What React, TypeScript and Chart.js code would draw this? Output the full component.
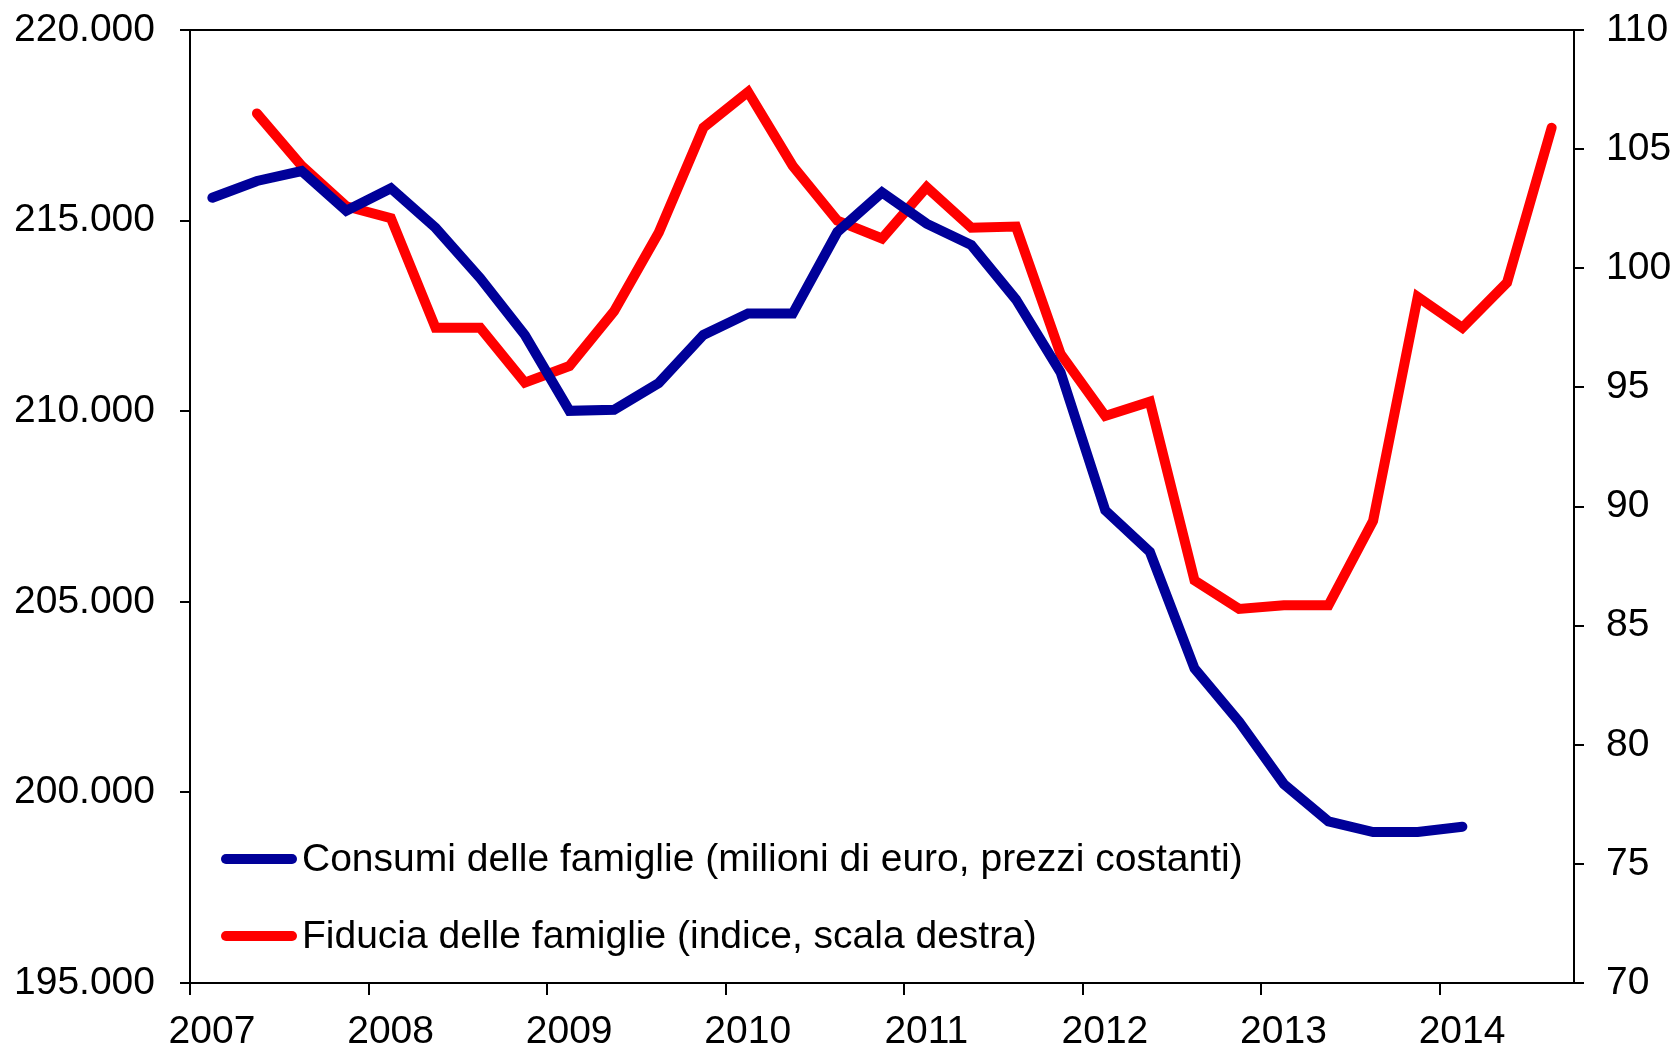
import React, { useEffect, useRef } from "react";
import { Chart, registerables } from "chart.js";

Chart.register(...registerables);

const quarters = [
  "2007Q1","2007Q2","2007Q3","2007Q4","2008Q1","2008Q2","2008Q3","2008Q4",
  "2009Q1","2009Q2","2009Q3","2009Q4","2010Q1","2010Q2","2010Q3","2010Q4",
  "2011Q1","2011Q2","2011Q3","2011Q4","2012Q1","2012Q2","2012Q3","2012Q4",
  "2013Q1","2013Q2","2013Q3","2013Q4","2014Q1","2014Q2","2014Q3",
];

const consumi: (number | null)[] = [
  215600, 216040, 216300, 215260, 215850, 214810, 213490, 212000,
  210010, 210040, 210740, 212000, 212560, 212560, 214700, 215740,
  214920, 214360, 212930, 211020, 207400, 206310, 203250, 201850,
  200220, 199240, 198960, 198960, 199100, null, null,
];

const fiducia: (number | null)[] = [
  null, 106.5, 104.3, 102.6, 102.1, 97.5, 97.5, 95.2,
  95.9, 98.2, 101.5, 105.9, 107.4, 104.3, 102.0, 101.25,
  103.4, 101.7, 101.75, 96.4, 93.8, 94.4, 86.9, 85.7,
  85.85, 85.85, 89.4, 98.8, 97.5, 99.4, 105.9,
];

const yearTicks = [2007, 2008, 2009, 2010, 2011, 2012, 2013, 2014];
const leftTicks = [195000, 200000, 205000, 210000, 215000, 220000];
const rightTicks = [70, 75, 80, 85, 90, 95, 100, 105, 110];

const seriesNames = [
  "Consumi delle famiglie (milioni di euro, prezzi costanti)",
  "Fiducia delle famiglie (indice, scala destra)",
];
const BLUE = "#000099";
const RED = "#ff0000";
const FONT = "'Liberation Sans', Arial, sans-serif";
const FONT_SIZE = 39;

export default function App() {
  const ref = useRef<HTMLCanvasElement | null>(null);

  useEffect(() => {
    if (!ref.current) return;
    const toPts = (arr: (number | null)[]) =>
      arr.map((v, i) => ({ x: i + 0.5, y: v }));

    const framePlugin = {
      id: "frame",
      afterDatasetsDraw(chart: any) {
        const { ctx, chartArea } = chart;
        ctx.save();
        ctx.strokeStyle = "#000";
        ctx.lineWidth = 2;
        ctx.beginPath();
        ctx.moveTo(chartArea.left - 10, chartArea.top);
        ctx.lineTo(chartArea.right + 10, chartArea.top);
        ctx.stroke();
        // legend
        const colors = [BLUE, RED];
        const ys = [chartArea.bottom - 124, chartArea.bottom - 47];
        ctx.font = `${FONT_SIZE}px ${FONT}`;
        ctx.textBaseline = "middle";
        ctx.textAlign = "left";
        ys.forEach((y, k) => {
          ctx.strokeStyle = colors[k];
          ctx.lineWidth = 10;
          ctx.lineCap = "round";
          ctx.beginPath();
          ctx.moveTo(chartArea.left + 36, y);
          ctx.lineTo(chartArea.left + 102, y);
          ctx.stroke();
          ctx.fillStyle = "#000";
          ctx.fillText(seriesNames[k], chartArea.left + 112, y + 1);
        });
        ctx.restore();
      },
    };

    const tickFont = { family: FONT, size: FONT_SIZE };

    const chart = new Chart(ref.current, {
      type: "line",
      data: {
        datasets: [
          {
            label: seriesNames[0],
            data: toPts(consumi) as any,
            borderColor: BLUE,
            backgroundColor: BLUE,
            borderWidth: 10,
            pointRadius: 0,
            borderCapStyle: "round",
            borderJoinStyle: "miter",
            yAxisID: "y",
            spanGaps: false,
          },
          {
            label: seriesNames[1],
            data: toPts(fiducia) as any,
            borderColor: RED,
            backgroundColor: RED,
            borderWidth: 10,
            pointRadius: 0,
            borderCapStyle: "round",
            borderJoinStyle: "miter",
            yAxisID: "y1",
            spanGaps: false,
          },
        ],
      },
      options: {
        animation: false,
        responsive: true,
        maintainAspectRatio: false,
        layout: { padding: { top: 30, left: 0, right: 0, bottom: 0 } },
        plugins: {
          legend: { display: false },
          tooltip: { enabled: false },
        },
        scales: {
          x: {
            type: "linear",
            min: 0,
            max: quarters.length,
            afterBuildTicks: (scale: any) => {
              scale.ticks = yearTicks.map((yr) => ({ value: (yr - 2007) * 4 }));
            },
            afterFit: (scale: any) => {
              scale.height = 66;
              scale.paddingLeft = 0;
              scale.paddingRight = 0;
            },
            ticks: {
              color: "#000",
              font: tickFont,
              padding: 14,
              labelOffset: 22,
              maxRotation: 0,
              autoSkip: false,
              callback: (v: any) => String(2007 + Math.round(Number(v) / 4)),
            },
            grid: {
              drawOnChartArea: false,
              drawTicks: true,
              tickLength: 12,
              color: "#000",
              lineWidth: 2,
            },
            border: { display: true, color: "#000", width: 2 },
          },
          y: {
            type: "linear",
            position: "left",
            min: 195000,
            max: 220000,
            afterBuildTicks: (scale: any) => {
              scale.ticks = leftTicks.map((v) => ({ value: v }));
            },
            afterFit: (scale: any) => {
              scale.width = 190;
              scale.paddingTop = 0;
              scale.paddingBottom = 0;
            },
            ticks: {
              color: "#000",
              font: tickFont,
              padding: 25,
              callback: (v: any) => (Number(v) / 1000).toFixed(3),
            },
            grid: {
              drawOnChartArea: false,
              drawTicks: true,
              tickLength: 10,
              color: "#000",
              lineWidth: 2,
            },
            border: { display: true, color: "#000", width: 2 },
          },
          y1: {
            type: "linear",
            position: "right",
            min: 70,
            max: 110,
            afterBuildTicks: (scale: any) => {
              scale.ticks = rightTicks.map((v) => ({ value: v }));
            },
            afterFit: (scale: any) => {
              scale.width = 103;
              scale.paddingTop = 0;
              scale.paddingBottom = 0;
            },
            ticks: {
              color: "#000",
              font: tickFont,
              padding: 22,
              callback: (v: any) => String(v),
            },
            grid: {
              drawOnChartArea: false,
              drawTicks: true,
              tickLength: 10,
              color: "#000",
              lineWidth: 2,
            },
            border: { display: true, color: "#000", width: 2 },
          },
        },
      } as any,
      plugins: [framePlugin],
    });
    return () => chart.destroy();
  }, []);

  return (
    <div
      style={{
        position: "fixed",
        left: 0,
        top: 0,
        width: 1677,
        height: 1049,
        background: "#fff",
      }}
    >
      <canvas ref={ref} />
    </div>
  );
}
